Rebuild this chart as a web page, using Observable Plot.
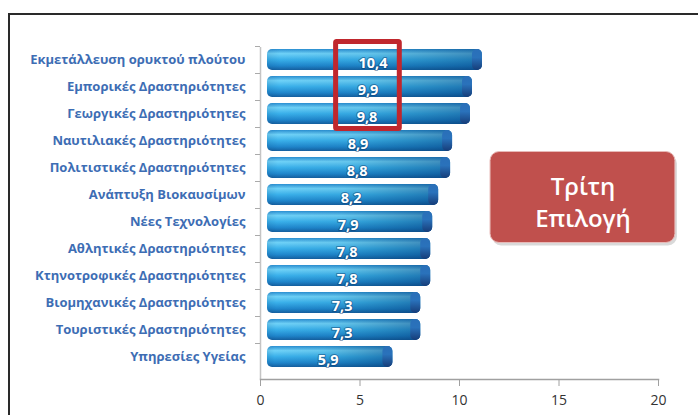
<!DOCTYPE html>
<html><head><meta charset="utf-8">
<script src="https://cdn.jsdelivr.net/npm/d3@7"></script>
<script src="https://cdn.jsdelivr.net/npm/@observablehq/plot@0.6"></script>
<style>
body{margin:0;background:#fff;}
#wrap{position:relative;width:698px;height:415px;overflow:hidden;}
#wrap svg{position:absolute;left:0;top:0;}
#border{position:absolute;left:8px;top:13px;width:700px;height:410px;border-top:2px solid #2a2a2a;border-left:2px solid #2a2a2a;pointer-events:none;}
</style></head><body><div id="wrap"><div id="border"></div></div>
<script>
const categories = [
  "Εκμετάλλευση ορυκτού πλούτου",
  "Εμπορικές Δραστηριότητες",
  "Γεωργικές Δραστηριότητες",
  "Ναυτιλιακές Δραστηριότητες",
  "Πολιτιστικές Δραστηριότητες",
  "Ανάπτυξη Βιοκαυσίμων",
  "Νέες Τεχνολογίες",
  "Αθλητικές Δραστηριότητες",
  "Κτηνοτροφικές Δραστηριότητες",
  "Βιομηχανικές Δραστηριότητες",
  "Τουριστικές Δραστηριότητες",
  "Υπηρεσίες Υγείας"
];
const values = [10.4, 9.9, 9.8, 8.9, 8.8, 8.2, 7.9, 7.8, 7.8, 7.3, 7.3, 5.9];
const valueLabels = ["10,4","9,9","9,8","8,9","8,8","8,2","7,9","7,8","7,8","7,3","7,3","5,9"];
const xTicks = [0, 5, 10, 15, 20];
const highlighted = categories[1];
const calloutRow = categories[5];
const calloutText = "Τρίτη\nΕπιλογή";

const data = categories.map((c, i) => ({category: c, value: values[i], label: valueLabels[i]}));
const DX = 7;
const CAP = 0.4; // visual depth of the 3D cylinder end cap, in axis units

const chart = Plot.plot({
  width: 698, height: 415,
  marginLeft: 260, marginRight: 40, marginTop: 47, marginBottom: 36,
  style: {fontFamily: "'Open Sans', 'Noto Sans', sans-serif", background: "transparent"},
  x: {domain: [0, 20], axis: null, label: null},
  y: {domain: categories, range: [46.5, 370.5], paddingInner: 0.22, paddingOuter: 0.11, axis: null, label: null},
  marks: [
    Plot.ruleX([0], {stroke: "#c4c4c4", strokeWidth: 1.5}),
    Plot.axisY({tickSize: 5, tickFormat: () => "", dy: -13.5, color: "#aaa", label: null}),
    Plot.frame({anchor: "bottom", stroke: "#a0a0a0", strokeWidth: 1.5}),
    Plot.axisX({ticks: xTicks, tickSize: 7, tickPadding: 9, fontSize: 14, color: "#a0a0a0", fill: "#333", label: null}),
    Plot.axisY({tickSize: 0, tickPadding: 15, fontSize: 13, fontWeight: "bold", color: "#3d6db4", label: null}),
    Plot.barX(data, {x1: 0, x2: d => d.value + CAP, y: "category", dx: DX, fill: "url(#barV)", rx: 5}),
    Plot.barX(data, {x1: 0, x2: d => d.value + CAP, y: "category", dx: DX, fill: "url(#barH)", rx: 5}),
    Plot.barX(data, {x1: d => d.value - 0.1, x2: d => d.value + CAP, y: "category", dx: DX, fill: "url(#cap)", rx: 5}),
    Plot.text(data, {x: d => d.value / 2, y: "category", text: "label", dx: DX + 2, dy: 3, fill: "white", fontWeight: "bold", fontSize: 14.5, stroke: "rgba(10,50,100,0.45)", strokeWidth: 2, paintOrder: "stroke"}),
    Plot.barX([{y: highlighted}], {x1: 3.8, x2: 7.0, y: "y", insetTop: -34.5, insetBottom: -31.5, fill: "none", stroke: "#c0272d", strokeWidth: 5, rx: 1}),
    Plot.barX([{y: calloutRow}], {x1: 11.56, x2: 20.85, y: "y", insetTop: -32.5, insetBottom: -37.5, dx: 2, dy: 3, fill: "rgba(0,0,0,0.15)", rx: 9}),
    Plot.barX([{y: calloutRow}], {x1: 11.56, x2: 20.85, y: "y", insetTop: -32.5, insetBottom: -37.5, fill: "#c0504d", stroke: "#e7b9b7", strokeWidth: 1, rx: 9}),
    Plot.text([{y: calloutRow}], {x: (11.56 + 20.85) / 2, y: "y", text: () => calloutText, dy: 6, fill: "white", fontSize: 24, fontWeight: 600, lineHeight: 1.33, fontFamily: "'Open Sans', sans-serif"})
  ]
});

const defs = d3.select(chart).insert("defs", ":first-child");
const gv = defs.append("linearGradient").attr("id", "barV").attr("x1", 0).attr("y1", 0).attr("x2", 0).attr("y2", 1);
[["0%", "#2a8fd2"], ["22%", "#6fd2f8"], ["50%", "#3ab0ea"], ["80%", "#1f86cc"], ["100%", "#155f9f"]]
  .forEach(([o, c]) => gv.append("stop").attr("offset", o).attr("stop-color", c));
const gh = defs.append("linearGradient").attr("id", "barH").attr("x1", 0).attr("y1", 0).attr("x2", 1).attr("y2", 0);
[["0%", "rgba(0,40,90,0.10)"], ["6%", "rgba(0,40,90,0)"], ["45%", "rgba(0,70,110,0.08)"], ["100%", "rgba(0,50,110,0.45)"]]
  .forEach(([o, c]) => gh.append("stop").attr("offset", o).attr("stop-color", c));
const gc = defs.append("linearGradient").attr("id", "cap").attr("x1", 0).attr("y1", 0).attr("x2", 0).attr("y2", 1);
[["0%", "#2a6fb8"], ["40%", "#2a72bb"], ["100%", "#163c78"]]
  .forEach(([o, c]) => gc.append("stop").attr("offset", o).attr("stop-color", c));

document.getElementById("wrap").prepend(chart);
</script>
</body></html>
